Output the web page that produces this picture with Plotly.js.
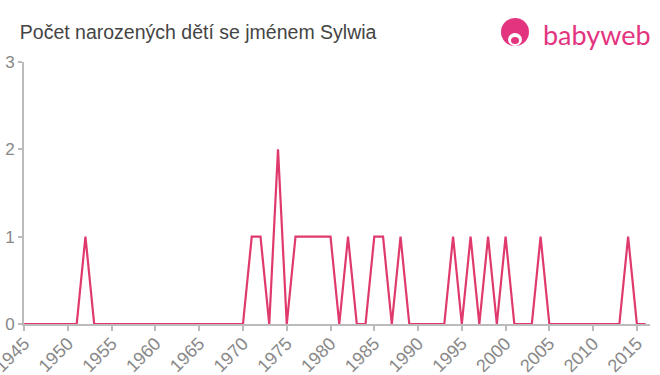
<!DOCTYPE html>
<html>
<head>
<meta charset="utf-8">
<script src="https://cdn.plot.ly/plotly-3.0.1.min.js"></script>
<style>html,body{margin:0;padding:0;background:#fff;}#chart{width:660px;height:375px;}</style>
</head>
<body>
<div id="chart"></div>
<script>
const years = [1945,1946,1947,1948,1949,1950,1951,1952,1953,1954,1955,1956,1957,1958,1959,1960,1961,1962,1963,1964,1965,1966,1967,1968,1969,1970,1971,1972,1973,1974,1975,1976,1977,1978,1979,1980,1981,1982,1983,1984,1985,1986,1987,1988,1989,1990,1991,1992,1993,1994,1995,1996,1997,1998,1999,2000,2001,2002,2003,2004,2005,2006,2007,2008,2009,2010,2011,2012,2013,2014,2015,2016];
const births = [0,0,0,0,0,0,0,1,0,0,0,0,0,0,0,0,0,0,0,0,0,0,0,0,0,0,1,1,0,2,0,1,1,1,1,1,0,1,0,0,1,1,0,1,0,0,0,0,0,1,0,1,0,1,0,1,0,0,0,1,0,0,0,0,0,0,0,0,0,1,0,0];
const xTicks = [1945,1950,1955,1960,1965,1970,1975,1980,1985,1990,1995,2000,2005,2010,2015];
const yTicks = [0,1,2,3];
const titleText = "Počet narozených dětí se jménem Sylwia";

const data = [{
  x: years, y: births, type: 'scatter', mode: 'lines',
  line: {color: '#e0396c', width: 2.2},
  hoverinfo: 'skip'
}];
const layout = {
  width: 660, height: 375,
  margin: {l: 24, r: 10, t: 62, b: 51},
  paper_bgcolor: '#fff', plot_bgcolor: '#fff',
  showlegend: false,
  font: {family: 'Liberation Sans, Arial, sans-serif', color: '#888'},
  title: {text: titleText, x: 0.03, xanchor: 'left', y: 0.915, yanchor: 'middle',
          font: {size: 19.5, color: '#444', family: 'Liberation Sans, Arial, sans-serif'}},
  xaxis: {
    range: [1944.98, 2016.5], tickmode: 'array', tickvals: xTicks, ticktext: xTicks.map(String),
    tickangle: -45, ticks: 'outside', ticklen: 5, tickcolor: '#bbb', tickwidth: 2,
    showline: true, linecolor: '#bbb', linewidth: 2, showgrid: false, zeroline: false,
    automargin: false, ticklabeloverflow: 'allow', ticklabelstandoff: -5,
    tickfont: {size: 18, color: '#888'}
  },
  yaxis: {
    range: [0, 3], tickmode: 'array', tickvals: yTicks, ticktext: yTicks.map(String),
    ticks: 'outside', ticklen: 4, tickcolor: '#bbb', tickwidth: 2,
    showline: true, linecolor: '#bbb', linewidth: 2, showgrid: false, zeroline: false,
    automargin: false,
    tickfont: {size: 17, color: '#888'}
  },
  shapes: [
    {type: 'circle', xref: 'paper', yref: 'paper', layer: 'above',
     x0: (501-24)/626, x1: (529-24)/626, y0: (375-51-46)/262, y1: (375-51-18)/262,
     fillcolor: '#e3357f', line: {width: 0}},
    {type: 'circle', xref: 'paper', yref: 'paper', layer: 'above',
     x0: (508-24)/626, x1: (522-24)/626, y0: (375-51-46)/262, y1: (375-51-33)/262,
     fillcolor: '#ffffff', line: {width: 0}},
    {type: 'circle', xref: 'paper', yref: 'paper', layer: 'above',
     x0: (511-24)/626, x1: (519-24)/626, y0: (375-51-44)/262, y1: (375-51-37)/262,
     fillcolor: '#e3357f', line: {width: 0}}
  ],
  annotations: [{
    text: 'babyweb', xref: 'paper', yref: 'paper', x: (653-24)/626, y: (375-51-34)/262,
    xanchor: 'right', yanchor: 'middle', showarrow: false,
    font: {size: 27, color: '#e3357f', family: 'Lato, Liberation Sans, sans-serif'}
  }]
};
Plotly.newPlot('chart', data, layout, {displayModeBar: false, staticPlot: true});
</script>
</body>
</html>
